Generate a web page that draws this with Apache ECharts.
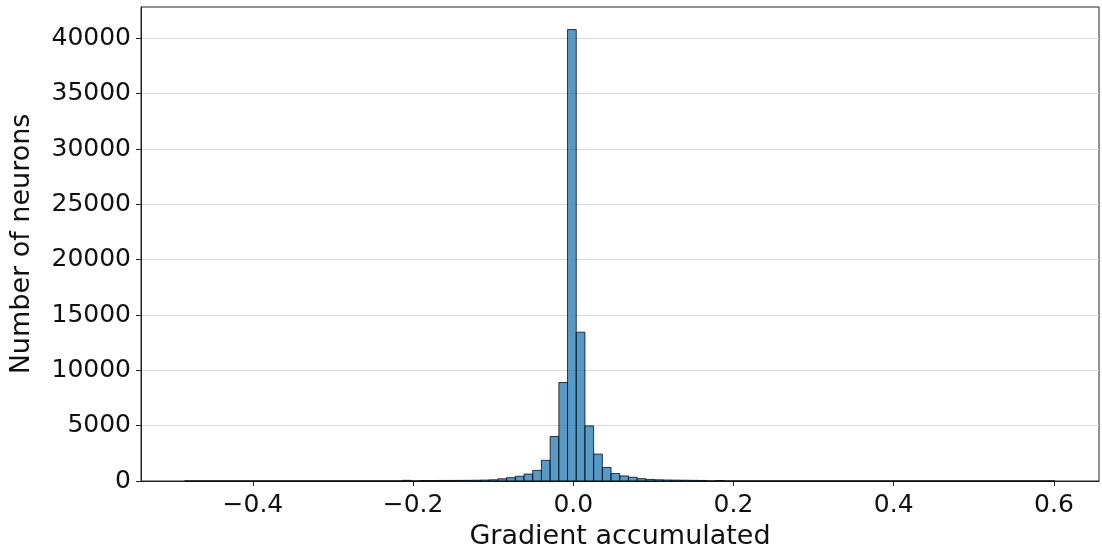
<!DOCTYPE html>
<html>
<head>
<meta charset="utf-8">
<script src="https://cdn.jsdelivr.net/npm/echarts@6/dist/echarts.min.js"></script>
<style>
html,body{margin:0;padding:0;background:#fff;}
#chart{width:1102px;height:555px;}
</style>
</head>
<body>
<div id="chart"></div>
<script>
// Histogram: 100 equal bins
const binStart = -0.4853;
const binWidth = 0.010866;
const counts = [
  1, 0, 0, 0, 0, 0, 0, 0, 0, 0,
  0, 0, 0, 0, 0, 0, 0, 0, 0, 0,
  0, 0, 0, 0, 0, 60, 0, 40, 45, 50,
  50, 55, 60, 70, 85, 110, 200, 300, 430, 630,
  960, 1870, 4020, 8900, 40800, 13450, 4980, 2430, 1230, 680,
  460, 340, 210, 140, 110, 90, 80, 70, 60, 50,
  0, 45, 0, 0, 0, 0, 0, 0, 0, 0,
  0, 0, 0, 0, 0, 0, 0, 0, 0, 0,
  0, 0, 0, 0, 0, 0, 0, 0, 0, 0,
  0, 0, 0, 0, 0, 0, 0, 0, 0, 1
];
const xTicks = [-0.4, -0.2, 0.0, 0.2, 0.4, 0.6];
const yTicks = [0, 5000, 10000, 15000, 20000, 25000, 30000, 35000, 40000];
const xLabel = 'Gradient accumulated';
const yLabel = 'Number of neurons';

const bins = counts.map((c, i) => [binStart + i * binWidth, binStart + (i + 1) * binWidth, c]);

const FONT = 'DejaVu Sans';
const chart = echarts.init(document.getElementById('chart'), null, {renderer: 'canvas'});
chart.setOption({
  animation: false,
  backgroundColor: '#fff',
  grid: {left: 141, right: 3, top: 7, bottom: 72, show: true, borderColor: '#222', borderWidth: 1, backgroundColor: 'transparent'},
  xAxis: {
    type: 'value',
    min: -0.5397, max: 0.6563,
    name: xLabel, nameLocation: 'middle', nameGap: 42,
    nameTextStyle: {fontFamily: FONT, fontSize: 27, color: '#111'},
    axisLine: {show: true, onZero: false, lineStyle: {color: '#222', width: 1}},
    axisTick: {show: true, length: 5, lineStyle: {color: '#222'}, customValues: xTicks},
    axisLabel: {fontFamily: FONT, fontSize: 25, color: '#111', margin: 12, customValues: xTicks,
      formatter: v => v.toFixed(1).replace('-', '\u2212')},
    splitLine: {show: false}
  },
  yAxis: {
    type: 'value',
    min: 0, max: 42840,
    name: yLabel, nameLocation: 'middle', nameGap: 106,
    nameTextStyle: {fontFamily: FONT, fontSize: 27, color: '#111'},
    axisLine: {show: true, onZero: false, lineStyle: {color: '#222', width: 1}},
    axisTick: {show: true, length: 5, lineStyle: {color: '#222'}, customValues: yTicks},
    axisLabel: {fontFamily: FONT, fontSize: 25, color: '#111', margin: 10, customValues: yTicks,
      formatter: v => String(v)},
    splitLine: {show: true, lineStyle: {color: '#d8d8d8', width: 1}}
  },
  series: [{
    type: 'custom',
    data: bins,
    encode: {x: [0, 1], y: 2},
    renderItem: function (params, api) {
      const p0 = api.coord([api.value(0), 0]);
      const p1 = api.coord([api.value(1), api.value(2)]);
      return {
        type: 'rect',
        shape: {x: p0[0], y: p1[1], width: p1[0] - p0[0], height: p0[1] - p1[1]},
        style: {fill: 'rgba(31,119,180,0.75)', stroke: 'rgba(0,0,0,0.75)', lineWidth: 1}
      };
    }
  }]
});
</script>
</body>
</html>
